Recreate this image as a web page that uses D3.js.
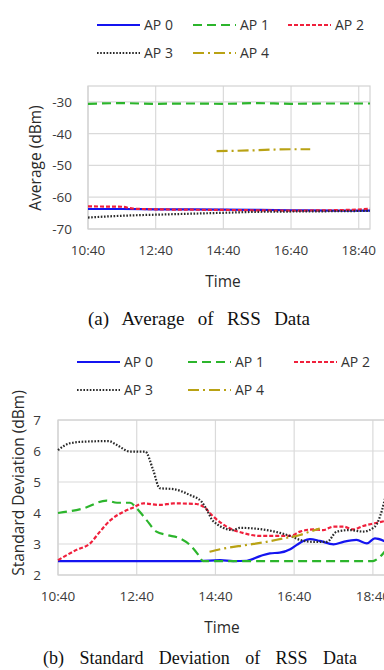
<!DOCTYPE html>
<html>
<head>
<meta charset="utf-8">
<script src="https://cdn.jsdelivr.net/npm/d3@7"></script>
<style>
  html, body { margin: 0; padding: 0; background: #fff; }
  svg { display: block; }
  .tick-label { font-family: "Open Sans", "Noto Sans", sans-serif; font-size: 13.5px; fill: #3a3a3a; }
  .axis-title { font-family: "Open Sans", "Noto Sans", sans-serif; font-size: 15.5px; fill: #2a2a2a; }
  .legend-label { font-family: "Open Sans", "Noto Sans", sans-serif; font-size: 14px; fill: #333; }
  .caption { font-family: "Liberation Serif", "DejaVu Serif", serif; fill: #111; }
</style>
</head>
<body>
<svg id="chart" width="384" height="670"></svg>
<script>
// ---- data ----
const apNames = ['AP 0', 'AP 1', 'AP 2', 'AP 3', 'AP 4'];
const timeTicks = ['10:40', '12:40', '14:40', '16:40', '18:40'];
const timeDomain = ['10:40', '19:00'];

// (a) average RSS, dBm
const avgTicks = [-30, -40, -50, -60, -70];
const avgAP0 = [['10:40', -63.7], ['11:40', -63.7], ['12:40', -63.8], ['14:40', -63.9], ['16:40', -64.1], ['18:00', -64.2], ['19:00', -64.2]];
const avgAP1 = [['10:40', -30.6], ['11:40', -30.4], ['12:40', -30.6], ['13:40', -30.5], ['14:40', -30.6], ['15:40', -30.4], ['16:40', -30.6], ['17:40', -30.5], ['19:00', -30.5]];
const avgAP2 = [['10:40', -62.9], ['11:40', -63.0], ['12:00', -63.6], ['12:40', -63.8], ['14:40', -64.0], ['16:40', -64.2], ['18:20', -64.0], ['19:00', -63.6]];
const avgAP3 = [['10:40', -66.4], ['11:20', -66.0], ['12:00', -65.7], ['12:40', -65.5], ['13:40', -65.2], ['14:40', -64.9], ['15:40', -64.6], ['16:40', -64.5], ['18:00', -64.4], ['19:00', -64.3]];
const avgAP4 = [['14:28', -45.5], ['15:00', -45.4], ['15:40', -45.2], ['16:10', -45.0], ['16:44', -44.9], ['17:14', -44.9]];

// (b) standard deviation of RSS, dBm
const stdTicks = [7, 6, 5, 4, 3, 2];
const stdAP0 = [['10:40', 2.45], ['14:16', 2.45], ['14:47', 2.48], ['15:07', 2.45], ['15:28', 2.46], ['15:48', 2.61], ['16:03', 2.7], ['16:18', 2.72], ['16:34', 2.83], ['16:44', 2.97], ['16:54', 3.1], ['17:04', 3.16], ['17:19', 3.1], ['17:40', 2.99], ['17:55', 3.07], ['18:15', 3.13], ['18:31', 3.02], ['18:43', 3.18], ['19:00', 3.07]];
const stdAP1 = [['10:40', 4.0], ['11:19', 4.15], ['11:54', 4.4], ['12:10', 4.33], ['12:30', 4.33], ['12:40', 4.15], ['12:55', 3.77], ['13:10', 3.4], ['13:26', 3.29], ['13:46', 3.18], ['14:01', 2.97], ['14:14', 2.65], ['14:21', 2.45], ['18:40', 2.45], ['18:47', 2.52], ['19:00', 2.8]];
const stdAP2 = [['10:40', 2.48], ['11:08', 2.81], ['11:29', 3.02], ['11:44', 3.4], ['12:00', 3.77], ['12:20', 4.04], ['12:35', 4.18], ['12:50', 4.31], ['13:15', 4.26], ['13:36', 4.31], ['14:11', 4.29], ['14:22', 4.2], ['14:37', 3.88], ['14:57', 3.56], ['15:23', 3.35], ['15:48', 3.26], ['16:13', 3.26], ['16:34', 3.26], ['16:49', 3.4], ['17:09', 3.47], ['17:24', 3.45], ['17:40', 3.56], ['17:55', 3.56], ['18:10', 3.47], ['18:25', 3.58], ['18:43', 3.67], ['19:00', 3.75]];
const stdAP3 = [['10:40', 6.03], ['10:58', 6.25], ['11:19', 6.3], ['11:57', 6.32], ['12:10', 6.19], ['12:30', 5.98], ['12:53', 5.98], ['13:05', 5.39], ['13:15', 4.8], ['13:36', 4.77], ['14:01', 4.58], ['14:19', 4.36], ['14:27', 4.1], ['14:36', 3.75], ['15:07', 3.45], ['15:17', 3.52], ['15:48', 3.48], ['16:18', 3.36], ['16:34', 3.26], ['16:49', 3.13], ['17:09', 3.07], ['17:30', 3.07], ['17:45', 3.4], ['18:05', 3.45], ['18:25', 3.4], ['18:43', 3.56], ['18:54', 4.1], ['19:00', 4.6]];
const stdAP4 = [['14:31', 2.75], ['14:47', 2.83], ['15:28', 2.97], ['15:58', 3.07], ['16:23', 3.18], ['16:49', 3.29], ['17:04', 3.4], ['17:19', 3.5]];

// ---- styles ----
const apStyles = [
  { color: '#1414f0', dash: null },
  { color: '#2cb52c', dash: '9,5' },
  { color: '#f0203c', dash: '4,2' },
  { color: '#2a2a2a', dash: '1.6,1.6' },
  { color: '#b9a214', dash: '11,4,2,4' }
];

const parseTime = d3.timeParse('%H:%M');
const svg = d3.select('#chart');

function drawLegend(g, cols, rows) {
  apNames.forEach((name, i) => {
    const col = i < 3 ? i : i - 3;
    const row = i < 3 ? 0 : 1;
    const x0 = cols[col];
    const y0 = rows[row];
    g.append('line')
      .attr('x1', x0).attr('x2', x0 + 43)
      .attr('y1', y0).attr('y2', y0)
      .attr('stroke', apStyles[i].color)
      .attr('stroke-width', 2)
      .attr('stroke-dasharray', apStyles[i].dash);
    g.append('text')
      .attr('class', 'legend-label')
      .attr('x', x0 + 47).attr('y', y0 + 5)
      .text(name);
  });
}

function drawChart(cfg) {
  const g = svg.append('g');
  const x = d3.scaleTime()
    .domain(timeDomain.map(parseTime))
    .range([cfg.left, cfg.right]);
  const y = d3.scaleLinear()
    .domain(cfg.yDomain)
    .range([cfg.bottom, cfg.top]);

  // grid
  const grid = g.append('g');
  cfg.yTicks.forEach(t => {
    grid.append('line')
      .attr('x1', cfg.left).attr('x2', cfg.right)
      .attr('y1', y(t)).attr('y2', y(t))
      .attr('stroke', '#dadada').attr('stroke-width', 1.2);
  });
  timeTicks.forEach(t => {
    grid.append('line')
      .attr('x1', x(parseTime(t))).attr('x2', x(parseTime(t)))
      .attr('y1', cfg.top).attr('y2', cfg.bottom)
      .attr('stroke', '#dadada').attr('stroke-width', 1.2);
  });
  grid.append('rect')
    .attr('x', cfg.left).attr('y', cfg.top)
    .attr('width', cfg.right - cfg.left).attr('height', cfg.bottom - cfg.top)
    .attr('fill', 'none').attr('stroke', '#d2d2d2').attr('stroke-width', 1.2);

  // tick labels
  cfg.yTicks.forEach(t => {
    g.append('text')
      .attr('class', 'tick-label')
      .attr('x', cfg.left - cfg.yTickGap).attr('y', y(t) + 5)
      .attr('text-anchor', 'end')
      .text(t < 0 ? '-' + Math.abs(t) : t);
  });
  timeTicks.forEach(t => {
    g.append('text')
      .attr('class', 'tick-label')
      .attr('x', x(parseTime(t))).attr('y', cfg.bottom + 26)
      .attr('text-anchor', 'middle')
      .text(t);
  });

  // axis titles
  g.append('text')
    .attr('class', 'axis-title')
    .attr('x', (cfg.left + cfg.right) / 2 - cfg.timeShift).attr('y', cfg.bottom + 58)
    .attr('text-anchor', 'middle')
    .text('Time');
  g.append('text')
    .attr('class', 'axis-title')
    .attr('transform', `translate(${cfg.yTitleX},${cfg.yTitleY}) rotate(-90)`)
    .attr('text-anchor', 'middle')
    .text(cfg.yTitle);

  // lines
  const line = d3.line()
    .x(d => x(parseTime(d[0])))
    .y(d => y(d[1]))
    .curve(d3.curveMonotoneX);
  cfg.series.forEach((s, i) => {
    g.append('path')
      .datum(s)
      .attr('fill', 'none')
      .attr('stroke', apStyles[i].color)
      .attr('stroke-width', 2.2)
      .attr('stroke-dasharray', apStyles[i].dash)
      .attr('d', line);
  });

  drawLegend(g, cfg.legendCols, cfg.legendRows);

  // caption, spread like justified text
  const cap = g.append('text')
    .attr('class', 'caption')
    .attr('font-size', cfg.capSize)
    .attr('x', cfg.capLeft).attr('y', cfg.capY)
    .text(cfg.caption);
  const words = cfg.caption.split(' ').length;
  const natural = cap.node().getComputedTextLength();
  cap.attr('word-spacing', Math.max(0, (cfg.capRight - cfg.capLeft - natural) / (words - 1)));
}

drawChart({
  left: 88, right: 370, top: 86, bottom: 229,
  yDomain: [-70, -25], yTicks: avgTicks, yTickGap: 16,
  series: [avgAP0, avgAP1, avgAP2, avgAP3, avgAP4],
  yTitle: 'Average (dBm)', yTitleX: 41, yTitleY: 158,
  timeShift: 6,
  legendCols: [97, 193, 288], legendRows: [25, 53],
  caption: '(a) Average of RSS Data', capSize: 19, capLeft: 88, capRight: 310, capY: 325
});

drawChart({
  left: 58, right: 386, top: 420, bottom: 575,
  yDomain: [2, 7], yTicks: stdTicks, yTickGap: 17,
  series: [stdAP0, stdAP1, stdAP2, stdAP3, stdAP4],
  yTitle: 'Standard Deviation (dBm)', yTitleX: 24, yTitleY: 483,
  timeShift: 0,
  legendCols: [77, 188, 294], legendRows: [362, 390],
  caption: '(b) Standard Deviation of RSS Data', capSize: 18, capLeft: 43, capRight: 357, capY: 664
});
</script>
</body>
</html>
